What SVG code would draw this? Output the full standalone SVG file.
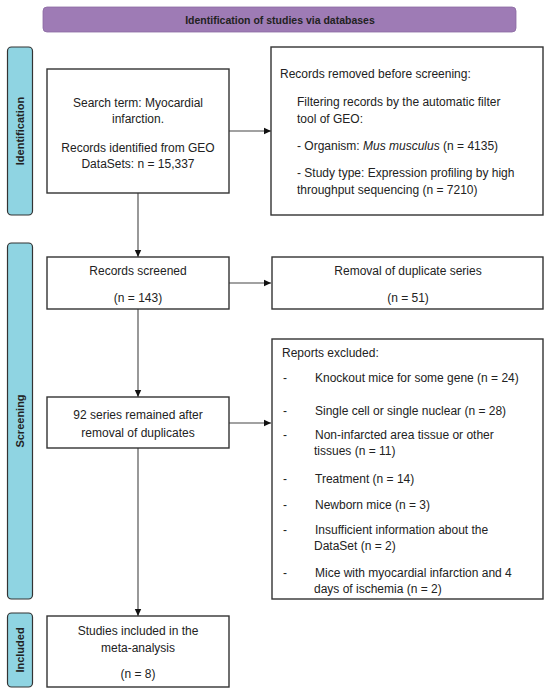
<svg xmlns="http://www.w3.org/2000/svg" width="550" height="694" viewBox="0 0 550 694">
<defs>
<marker id="ah" markerWidth="8" markerHeight="8" refX="7" refY="4" orient="auto" markerUnits="userSpaceOnUse">
<path d="M0,0.8 L7,4 L0,7.2 Z" fill="#111"/>
</marker>
<style>
.box{fill:#fff;stroke:#333;stroke-width:1.4}
.side{fill:#8fd4e2;stroke:#333;stroke-width:1.2}
.t{font-family:"Liberation Sans",Arial,sans-serif;font-size:12px;fill:#222}
.c{text-anchor:middle}
.sl{font-family:"Liberation Sans",Arial,sans-serif;font-size:11px;font-weight:bold;fill:#222;text-anchor:middle}
.hd{font-family:"Liberation Sans",Arial,sans-serif;font-size:10.5px;font-weight:bold;fill:#222;text-anchor:middle}
.ln{stroke:#444;stroke-width:1.1;fill:none;marker-end:url(#ah)}
</style>
</defs>
<rect width="550" height="694" fill="#fff"/>

<g id="header">
<rect x="43" y="7" width="473" height="25" rx="4" fill="#9e7bb5" stroke="#8a6aa2" stroke-width="0.8"/>
<text class="hd" x="280" y="23.5">Identification of studies via databases</text>
</g>

<g id="side-identification">
<rect class="side" x="7.5" y="47" width="25" height="168" rx="4"/>
<text class="sl" transform="translate(24,131) rotate(-90)">Identification</text>
</g>
<g id="side-screening">
<rect class="side" x="7.5" y="243" width="25" height="356" rx="4"/>
<text class="sl" transform="translate(24,421) rotate(-90)">Screening</text>
</g>
<g id="side-included">
<rect class="side" x="7.5" y="613" width="25" height="74" rx="4"/>
<text class="sl" transform="translate(24,650) rotate(-90)">Included</text>
</g>

<g id="connectors">
<line class="ln" x1="229" y1="131" x2="271" y2="131"/>
<line class="ln" x1="138" y1="193" x2="138" y2="257"/>
<line class="ln" x1="229" y1="283" x2="271" y2="283"/>
<line class="ln" x1="138" y1="309" x2="138" y2="397"/>
<line class="ln" x1="229" y1="423" x2="271" y2="423"/>
<line class="ln" x1="138" y1="448" x2="138" y2="616"/>
</g>

<g id="search">
<rect class="box" x="47" y="69" width="182" height="124"/>
<text class="t c" x="138" y="107">Search term: Myocardial</text>
<text class="t c" x="138" y="123">infarction.</text>
<text class="t c" x="138" y="152">Records identified from GEO</text>
<text class="t c" x="138" y="168">DataSets: n = 15,337</text>
</g>

<g id="removed-before">
<rect class="box" x="271" y="47" width="272" height="168"/>
<text class="t" x="280" y="78">Records removed before screening:</text>
<text class="t" x="297" y="106">Filtering records by the automatic filter</text>
<text class="t" x="297" y="123">tool of GEO:</text>
<text class="t" x="297" y="150">-  Organism:  <tspan font-style="italic">Mus musculus</tspan> (n = 4135)</text>
<text class="t" x="297" y="177">-  Study type: Expression profiling by high</text>
<text class="t" x="297" y="194">throughput sequencing (n = 7210)</text>
</g>

<g id="screened">
<rect class="box" x="47" y="257" width="182" height="52"/>
<text class="t c" x="138" y="275">Records screened</text>
<text class="t c" x="138" y="302">(n = 143)</text>
</g>

<g id="duplicates">
<rect class="box" x="272" y="257" width="271" height="52"/>
<text class="t c" x="408" y="275">Removal of duplicate series</text>
<text class="t c" x="408" y="302">(n = 51)</text>
</g>

<g id="remained">
<rect class="box" x="47" y="397" width="182" height="51"/>
<text class="t c" x="138" y="419">92 series remained after</text>
<text class="t c" x="138" y="437">removal of duplicates</text>
</g>

<g id="excluded">
<rect class="box" x="272" y="339" width="271" height="260"/>
<text class="t" x="282" y="357">Reports excluded:</text>
<text class="t" x="283" y="382">-</text><text class="t" x="315" y="382">Knockout mice for some gene (n = 24)</text>
<text class="t" x="283" y="415">-</text><text class="t" x="315" y="415">Single cell or single nuclear (n = 28)</text>
<text class="t" x="283" y="439">-</text><text class="t" x="315" y="439">Non-infarcted area tissue or other</text>
<text class="t" x="314" y="455">tissues (n = 11)</text>
<text class="t" x="283" y="483">-</text><text class="t" x="315" y="483">Treatment (n = 14)</text>
<text class="t" x="283" y="509">-</text><text class="t" x="315" y="509">Newborn mice (n = 3)</text>
<text class="t" x="283" y="534">-</text><text class="t" x="315" y="534">Insufficient information about the</text>
<text class="t" x="314" y="550">DataSet (n = 2)</text>
<text class="t" x="283" y="577">-</text><text class="t" x="315" y="577">Mice with myocardial infarction and 4</text>
<text class="t" x="314" y="593">days of ischemia (n = 2)</text>
</g>

<g id="included">
<rect class="box" x="47" y="616" width="182" height="71"/>
<text class="t c" x="138" y="635">Studies included in the</text>
<text class="t c" x="138" y="652">meta-analysis</text>
<text class="t c" x="138" y="678">(n = 8)</text>
</g>
</svg>
